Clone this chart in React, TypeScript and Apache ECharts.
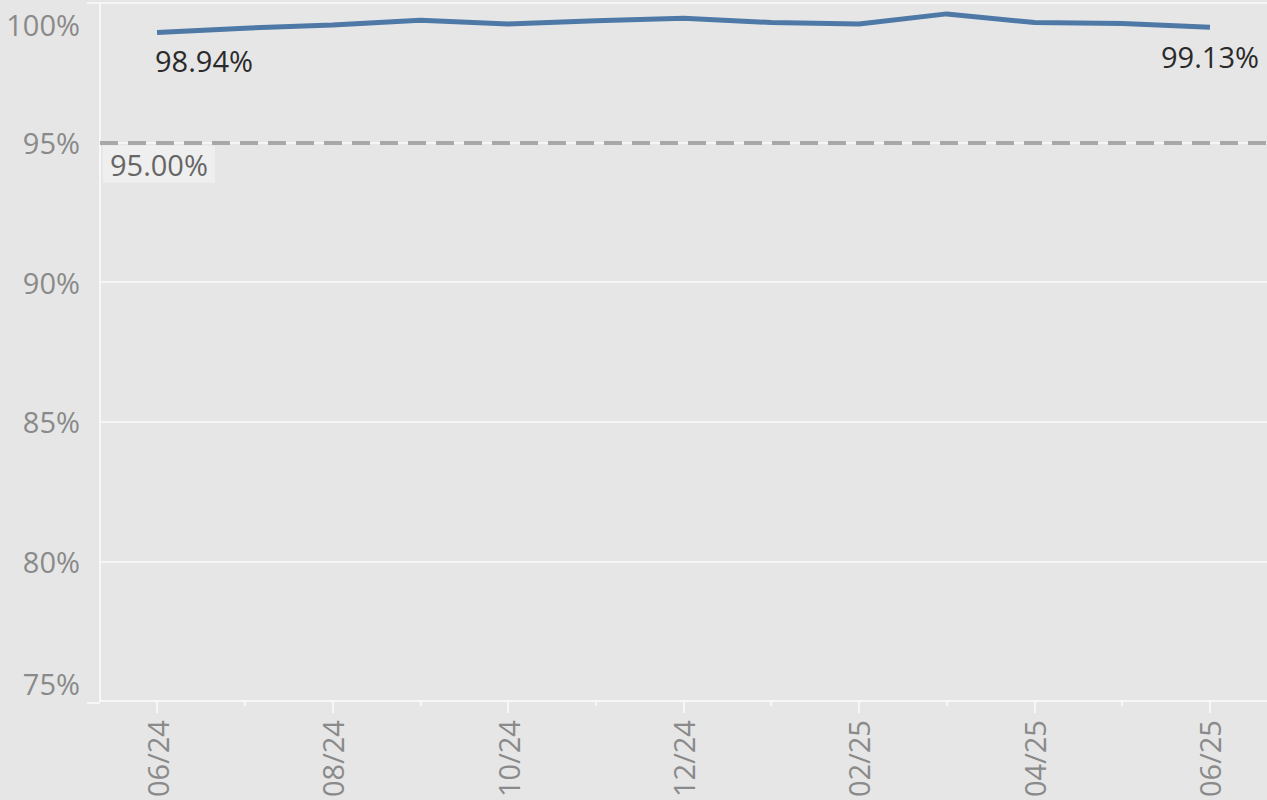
import React, { useEffect, useRef } from "react";
import * as echarts from "echarts";

const months = ["06/24", "07/24", "08/24", "09/24", "10/24", "11/24", "12/24", "01/25", "02/25", "03/25", "04/25", "05/25", "06/25"];
const values = [98.94, 99.1, 99.21, 99.38, 99.25, 99.36, 99.45, 99.3, 99.25, 99.61, 99.3, 99.27, 99.13];
const yTicks = [75, 80, 85, 90, 95, 100];
const target = 95;
const labelledMonths = [0, 2, 4, 6, 8, 10, 12];
const minorMonths = [1, 3, 5, 7, 9, 11];

const FONT = "'Open Sans', 'Noto Sans', sans-serif";
const FS = 29;

export default function App() {
  const ref = useRef<HTMLDivElement>(null);
  useEffect(() => {
    document.body.style.margin = "0";
    document.body.style.background = "#e6e6e6";
    const chart = echarts.init(ref.current!, undefined, { renderer: "svg" });
    const last = values.length - 1;
    const xRange = { min: -0.65, max: 12.65 };
    chart.setOption({
      animation: false,
      backgroundColor: "#e6e6e6",
      textStyle: { fontFamily: FONT },
      grid: { left: 100, right: 0, top: 3, bottom: 97, containLabel: false },
      xAxis: [
        {
          type: "value",
          position: "bottom",
          ...xRange,
          axisLine: { show: true, onZero: false, lineStyle: { color: "#f7f7f7", width: 2 } },
          axisTick: { show: true, customValues: labelledMonths, length: 12, lineStyle: { color: "#f7f7f7", width: 2 } },
          axisLabel: {
            customValues: labelledMonths,
            rotate: 90,
            margin: 19,
            color: "#8a8a8a",
            fontSize: FS,
            fontFamily: FONT,
            formatter: (v: number) => months[Math.round(v)] ?? "",
          },
          splitLine: { show: false },
        },
        {
          type: "value",
          position: "bottom",
          ...xRange,
          axisLine: { show: false, onZero: false },
          axisTick: { show: true, customValues: minorMonths, length: 5, lineStyle: { color: "#f7f7f7", width: 2 } },
          axisLabel: { show: false },
          splitLine: { show: false },
        },
      ],
      yAxis: {
        type: "value",
        min: yTicks[0],
        max: yTicks[yTicks.length - 1],
        interval: 5,
        axisLine: { show: true, onZero: false, lineStyle: { color: "#f7f7f7", width: 2 } },
        axisTick: { show: false },
        splitLine: { show: true, lineStyle: { color: "#f5f5f5", width: 2 } },
        axisLabel: {
          margin: 20,
          color: "#8a8a8a",
          fontSize: FS,
          fontFamily: FONT,
          formatter: (v: number) => (v === 100 ? "{t|100%}" : v === 75 ? "{b|75%}" : `${v}%`),
          rich: {
            t: { padding: [42, 0, 0, 0], color: "#8a8a8a", fontSize: FS, fontFamily: FONT },
            b: { padding: [0, 0, 36, 0], color: "#8a8a8a", fontSize: FS, fontFamily: FONT },
          },
        },
      },
      graphic: [
        { type: "line", shape: { x1: 87, y1: 3, x2: 100, y2: 3 }, style: { stroke: "#f5f5f5", lineWidth: 2 } },
        { type: "line", shape: { x1: 87, y1: 703, x2: 100, y2: 703 }, style: { stroke: "#f7f7f7", lineWidth: 2 } },
      ],
      series: [
        {
          type: "line",
          xAxisIndex: 0,
          data: values.map((v, i) => ({
            value: [i, v],
            label:
              i === 0
                ? { show: true, position: "bottom", align: "left", distance: 13, offset: [-2, 0] }
                : i === last
                ? { show: true, position: "bottom", align: "center", distance: 15 }
                : { show: false },
          })),
          symbol: "circle",
          symbolSize: 0,
          showSymbol: true,
          lineStyle: { color: "#4e79a7", width: 5 },
          itemStyle: { color: "#4e79a7" },
          label: {
            color: "#2a2a2a",
            fontSize: FS,
            fontFamily: FONT,
            formatter: (p: any) => `${p.value[1].toFixed(2)}%`,
          },
          markLine: {
            silent: true,
            symbol: "none",
            lineStyle: { color: "#a8a8a8", type: [18, 10], width: 4 },
            label: {
              show: true,
              position: "insideStartBottom",
              distance: 3,
              formatter: `${target.toFixed(2)}%`,
              color: "#666666",
              fontSize: FS,
              fontFamily: FONT,
              backgroundColor: "#efefef",
              padding: [4, 7, 4, 7],
            },
            data: [{ yAxis: target }],
          },
        },
      ],
    });
    return () => chart.dispose();
  }, []);
  return <div ref={ref} style={{ width: 1267, height: 800 }} />;
}
